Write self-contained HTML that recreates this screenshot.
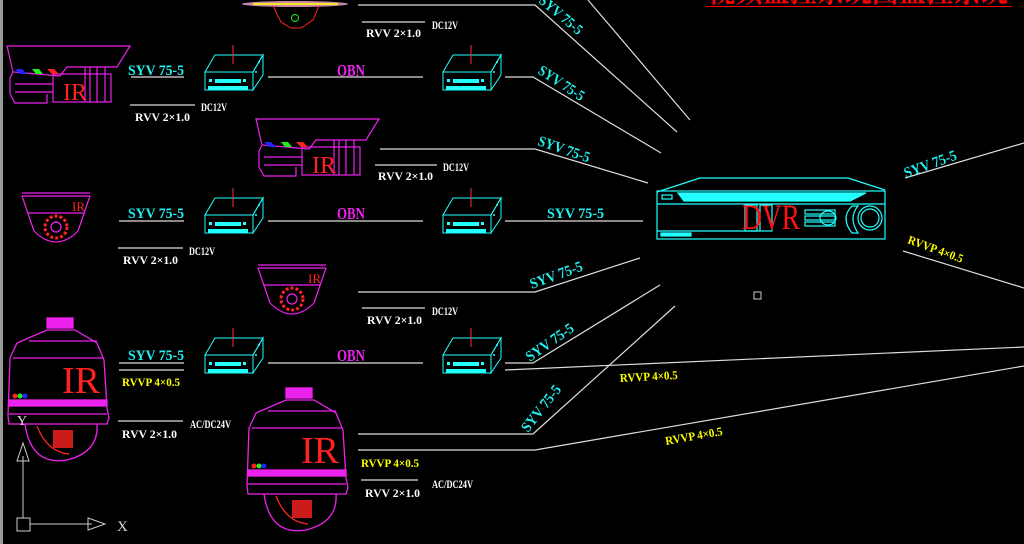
<!DOCTYPE html>
<html><head><meta charset="utf-8"><style>
html,body{margin:0;padding:0;background:#000;width:1024px;height:544px;overflow:hidden}
svg{display:block}
text{font-family:"Liberation Serif","Noto Serif CJK SC",serif}
</style></head><body>
<svg width="1024" height="544" viewBox="0 0 1024 544" xmlns="http://www.w3.org/2000/svg">
<defs>
<g id="enc">
 <polygon points="10,5 58,5 48,22 0,22" fill="none" stroke="#2ff" stroke-width="1"/>
 <polygon points="0,22 48,22 48,40 0,40" fill="none" stroke="#2ff" stroke-width="1"/>
 <polygon points="48,22 58,5 58,25 48,40" fill="none" stroke="#2ff" stroke-width="1"/>
 <line x1="28" y1="-5" x2="28" y2="14" stroke="#f33" stroke-width="1"/>
 <rect x="10" y="29" width="26" height="4" fill="#2ff"/>
 <rect x="4" y="29" width="3" height="3" fill="#2ff"/>
 <rect x="38" y="29" width="3" height="3" fill="#2ff"/>
 <rect x="3" y="36" width="40" height="4" fill="#2ff"/>
 <circle cx="54" cy="12" r="1" fill="#2ff"/><circle cx="51" cy="22" r="1" fill="#2ff"/>
</g>
<g id="bullet" fill="none" stroke="#e2e" stroke-width="1.2">
 <polygon points="2,2 125,2 112,23 62,23 55,32 8,28"/>
 <path d="M8,28 L5,34 L5,50 L10,59 L42,59 L42,50"/>
 <line x1="10" y1="40" x2="48" y2="40"/><line x1="10" y1="48" x2="48" y2="48"/>
 <rect x="48" y="30" width="58" height="28"/>
 <line x1="80" y1="23" x2="80" y2="58"/><line x1="85" y1="23" x2="85" y2="58"/><line x1="92" y1="23" x2="92" y2="58"/><line x1="100" y1="23" x2="100" y2="58"/>
 <polygon points="10,25 17,25 22,30 15,30" fill="#22f" stroke="none"/>
 <polygon points="27,25 34,25 38,30 31,30" fill="#2e2" stroke="none"/>
 <polygon points="42,25 49,25 54,30 47,30" fill="#f22" stroke="none"/>
 <text x="58" y="56" fill="#f22" stroke="none" font-size="24" textLength="24" lengthAdjust="spacingAndGlyphs">IR</text>
</g>
<g id="dome" fill="none" stroke="#e2e" stroke-width="1.2">
 <line x1="0" y1="0" x2="68" y2="0"/><line x1="0" y1="3" x2="68" y2="3"/>
 <path d="M0,3 L12,38 Q34,60 56,38 L68,3"/>
 <line x1="6" y1="20" x2="62" y2="20"/>
 <circle cx="34" cy="34" r="11" stroke="#f22" stroke-dasharray="3 2" stroke-width="3"/>
 <circle cx="34" cy="34" r="5"/>
 <text x="50" y="18" fill="#f22" stroke="none" font-size="13">IR</text>
</g>
<g id="ptz" fill="none" stroke="#e2e" stroke-width="1.3">
 <rect x="40" y="0" width="26" height="10" fill="#e2e"/>
 <path d="M40,12 L68,12 L90,25 L97,42 L100,90 L102,100 L100,106 L2,106 L1,98 L3,40 L10,25 L40,12Z"/>
 <line x1="22" y1="23" x2="90" y2="23"/><line x1="6" y1="40" x2="96" y2="40"/>
 <rect x="2" y="82" width="98" height="6" fill="#e2e"/>
 <line x1="2" y1="96" x2="100" y2="96"/>
 <path d="M18,106 Q24,148 60,142 Q92,134 90,106"/>
 <path d="M30,108 Q40,134 62,136" stroke="#f22"/>
 <rect x="46" y="112" width="20" height="18" fill="#f22" stroke="none" opacity="0.8"/>
 <circle cx="8" cy="78" r="2.5" fill="#f22" stroke="none"/><circle cx="13" cy="78" r="2.5" fill="#2e2" stroke="none"/><circle cx="18" cy="78" r="2.5" fill="#22f" stroke="none"/>
 <text x="55" y="75" fill="#f22" stroke="none" font-size="38" textLength="38" lengthAdjust="spacingAndGlyphs">IR</text>
</g>
</defs>
<rect width="1024" height="544" fill="#000"/>
<rect x="0" y="0" width="3" height="544" fill="#999"/>

<!-- red title (clipped) -->
<text x="708" y="2" fill="#f00" font-size="30" textLength="300" lengthAdjust="spacingAndGlyphs" font-weight="bold">视频监控系统图监控系统</text>
<line x1="706" y1="6.5" x2="1012" y2="6.5" stroke="#f00" stroke-width="1"/>

<!-- white lines -->
<g stroke="#ddd" stroke-width="1.2" fill="none">
 <polyline points="358,5 535,5 677,132"/>
 <line x1="588" y1="0" x2="690" y2="120"/>
 <line x1="268" y1="77" x2="423" y2="77"/>
 <polyline points="505,77 533,77 661,153"/>
 <polyline points="380,149 535,149 648,183"/>
 <line x1="268" y1="221" x2="423" y2="221"/>
 <line x1="505" y1="221" x2="643" y2="221"/>
 <polyline points="358,292 535,292 640,258"/>
 <line x1="268" y1="363" x2="423" y2="363"/>
 <polyline points="505,363 533,363 660,285"/>
 <line x1="505" y1="370" x2="1024" y2="347"/>
 <polyline points="358,434 533,434 675,306"/>
 <polyline points="358,450 535,450 1024,366"/>
 <line x1="905" y1="178" x2="1024" y2="143"/>
 <line x1="903" y1="251" x2="1024" y2="288"/>
 <line x1="362" y1="22" x2="425" y2="22"/>
 <line x1="131" y1="77" x2="184" y2="77"/>
 <line x1="130" y1="105" x2="195" y2="105"/>
 <line x1="375" y1="165" x2="437" y2="165"/>
 <line x1="119" y1="221" x2="184" y2="221"/>
 <line x1="118" y1="248" x2="183" y2="248"/>
 <line x1="362" y1="308" x2="425" y2="308"/>
 <line x1="119" y1="363" x2="184" y2="363"/>
 <line x1="119" y1="370" x2="184" y2="370"/>
 <line x1="118" y1="421" x2="183" y2="421"/>
 <line x1="361" y1="480" x2="418" y2="480"/>
</g>

<!-- cameras -->
<g transform="translate(243,0)">
 <ellipse cx="52" cy="4" rx="53" ry="3" fill="#c8a"/>
 <rect x="10" y="3" width="85" height="2" fill="#ff0" opacity="0.8"/>
 <path d="M30,6 L38,22 L48,28 L58,28 L70,20 L76,6" fill="none" stroke="#f22" stroke-width="1"/>
 <circle cx="52" cy="18" r="3.5" fill="none" stroke="#2e2"/>
</g>
<use href="#bullet" transform="translate(5,44)"/>
<use href="#bullet" transform="translate(254,117)"/>
<use href="#dome" transform="translate(22,193)"/>
<use href="#dome" transform="translate(258,265)"/>
<use href="#ptz" transform="translate(7,318)"/>
<use href="#ptz" transform="translate(246,388)"/>

<!-- encoders -->
<use href="#enc" transform="translate(205,50)"/>
<use href="#enc" transform="translate(443,50)"/>
<use href="#enc" transform="translate(205,193)"/>
<use href="#enc" transform="translate(443,193)"/>
<use href="#enc" transform="translate(205,333)"/>
<use href="#enc" transform="translate(443,333)"/>

<!-- DVR -->
<g fill="none" stroke="#2ff" stroke-width="1.2">
 <polyline points="657,192 700,178 848,178 885,190"/>
 <rect x="657" y="191" width="228" height="48"/>
 <polygon points="678,193 866,193 850,201 684,201" fill="#2ff"/>
 <rect x="662" y="195" width="10" height="4"/>
 <line x1="657" y1="204" x2="885" y2="204"/>
 <line x1="657" y1="231" x2="760" y2="231"/>
 <rect x="661" y="233" width="30" height="3" fill="#2ff"/>
 <rect x="805" y="210" width="30" height="4"/><rect x="805" y="216" width="30" height="4"/><rect x="805" y="222" width="30" height="4"/>
 <ellipse cx="828" cy="218" rx="8" ry="7"/>
 <path d="M852,206 Q840,218 852,233 L858,233 Q848,218 858,206Z"/>
 <circle cx="870" cy="218" r="12"/><circle cx="870" cy="218" r="9"/>
 <rect x="745" y="205" width="12" height="26"/><rect x="760" y="205" width="12" height="26"/>
</g>
<text x="742" y="229" fill="#f11" font-size="36" textLength="58" lengthAdjust="spacingAndGlyphs">DVR</text>

<!-- axis icon -->
<g stroke="#ccc" fill="none" stroke-width="1">
 <line x1="23" y1="518" x2="23" y2="456"/>
 <polygon points="17,461 23,443 29,461"/>
 <rect x="17" y="518" width="13" height="13"/>
 <line x1="30" y1="524" x2="92" y2="524"/>
 <polygon points="88,518 105,524 88,530"/>
 <rect x="754" y="292" width="7" height="7"/>
</g>
<text x="117" y="531" fill="#ddd" font-size="15" font-family="Liberation Sans">X</text>
<text x="17" y="425" fill="#ddd" font-size="14" font-family="Liberation Sans">Y</text>

<!-- labels -->
<g font-size="15" fill="#2ee" font-weight="bold">
 <text x="128" y="75" textLength="56" lengthAdjust="spacingAndGlyphs">SYV 75-5</text>
 <text x="128" y="218" textLength="56" lengthAdjust="spacingAndGlyphs">SYV 75-5</text>
 <text x="547" y="218" textLength="57" lengthAdjust="spacingAndGlyphs">SYV 75-5</text>
 <text x="128" y="360" textLength="56" lengthAdjust="spacingAndGlyphs">SYV 75-5</text>
 <text transform="translate(538,2) rotate(40)" textLength="52" lengthAdjust="spacingAndGlyphs">SYV 75-5</text>
 <text transform="translate(537,73) rotate(33)" textLength="52" lengthAdjust="spacingAndGlyphs">SYV 75-5</text>
 <text transform="translate(537,145) rotate(19)" textLength="54" lengthAdjust="spacingAndGlyphs">SYV 75-5</text>
 <text transform="translate(532,289) rotate(-20)" textLength="55" lengthAdjust="spacingAndGlyphs">SYV 75-5</text>
 <text transform="translate(530,362) rotate(-35)" textLength="55" lengthAdjust="spacingAndGlyphs">SYV 75-5</text>
 <text transform="translate(528,433) rotate(-52)" textLength="55" lengthAdjust="spacingAndGlyphs">SYV 75-5</text>
 <text transform="translate(906,178) rotate(-20)" textLength="55" lengthAdjust="spacingAndGlyphs">SYV 75-5</text>
</g>
<g font-size="17" fill="#e2e" font-weight="bold">
 <text x="337" y="76" textLength="28" lengthAdjust="spacingAndGlyphs">OBN</text>
 <text x="337" y="219" textLength="28" lengthAdjust="spacingAndGlyphs">OBN</text>
 <text x="337" y="361" textLength="28" lengthAdjust="spacingAndGlyphs">OBN</text>
</g>
<g font-size="12" fill="#fff" font-weight="bold">
 <text x="366" y="37" textLength="55" lengthAdjust="spacingAndGlyphs">RVV 2×1.0</text>
 <text x="432" y="29" textLength="26" lengthAdjust="spacingAndGlyphs">DC12V</text>
 <text x="135" y="121" textLength="55" lengthAdjust="spacingAndGlyphs">RVV 2×1.0</text>
 <text x="201" y="111" textLength="26" lengthAdjust="spacingAndGlyphs">DC12V</text>
 <text x="378" y="180" textLength="55" lengthAdjust="spacingAndGlyphs">RVV 2×1.0</text>
 <text x="443" y="171" textLength="26" lengthAdjust="spacingAndGlyphs">DC12V</text>
 <text x="123" y="264" textLength="55" lengthAdjust="spacingAndGlyphs">RVV 2×1.0</text>
 <text x="189" y="255" textLength="26" lengthAdjust="spacingAndGlyphs">DC12V</text>
 <text x="367" y="324" textLength="55" lengthAdjust="spacingAndGlyphs">RVV 2×1.0</text>
 <text x="432" y="315" textLength="26" lengthAdjust="spacingAndGlyphs">DC12V</text>
 <text x="122" y="438" textLength="55" lengthAdjust="spacingAndGlyphs">RVV 2×1.0</text>
 <text x="190" y="428" textLength="41" lengthAdjust="spacingAndGlyphs">AC/DC24V</text>
 <text x="365" y="497" textLength="55" lengthAdjust="spacingAndGlyphs">RVV 2×1.0</text>
 <text x="432" y="488" textLength="41" lengthAdjust="spacingAndGlyphs">AC/DC24V</text>
</g>
<g font-size="12" fill="#ff0" font-weight="bold">
 <text x="122" y="386" textLength="58" lengthAdjust="spacingAndGlyphs">RVVP 4×0.5</text>
 <text x="361" y="467" textLength="58" lengthAdjust="spacingAndGlyphs">RVVP 4×0.5</text>
 <text transform="translate(620,382) rotate(-3)" textLength="58" lengthAdjust="spacingAndGlyphs">RVVP 4×0.5</text>
 <text transform="translate(666,445) rotate(-10)" textLength="58" lengthAdjust="spacingAndGlyphs">RVVP 4×0.5</text>
 <text transform="translate(907,243) rotate(20)" textLength="58" lengthAdjust="spacingAndGlyphs">RVVP 4×0.5</text>
</g>
</svg>
</body></html>
